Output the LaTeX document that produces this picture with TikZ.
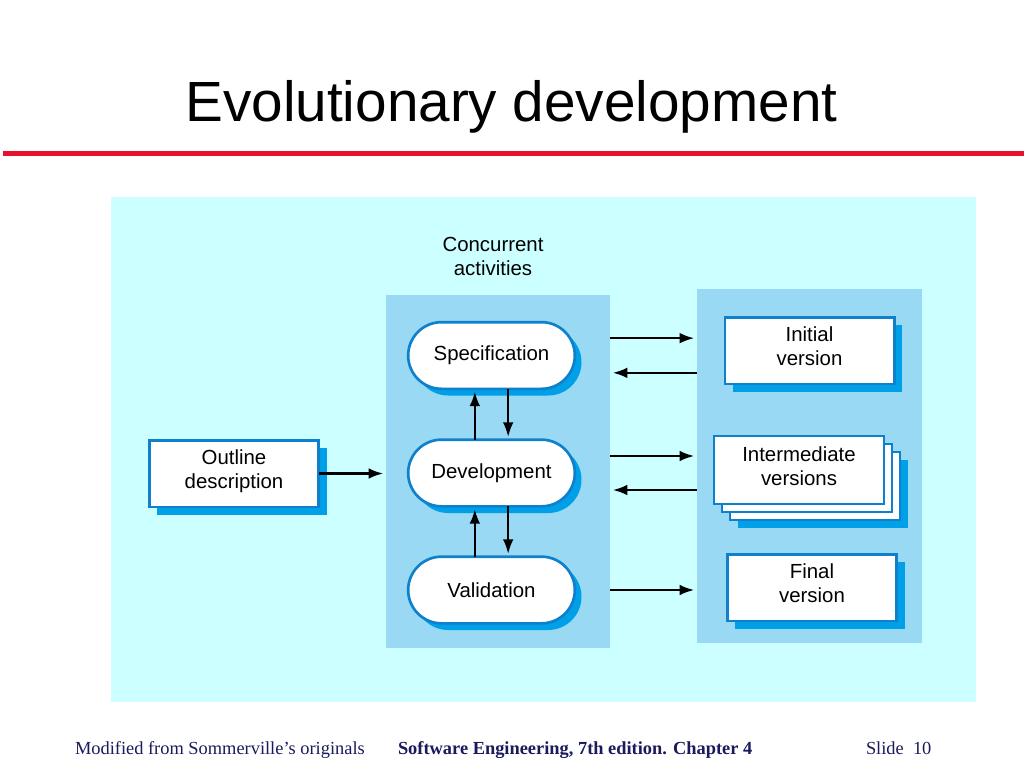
\documentclass[tikz,border=0pt]{standalone}
\usepackage{fontspec}
\setmainfont{Liberation Serif}
\setsansfont{Liberation Sans}
\usetikzlibrary{shadows,arrows.meta,shapes.misc}
\definecolor{bgcyan}{HTML}{CCFFFF}
\definecolor{colblue}{HTML}{99D9F4}
\definecolor{edgeblue}{HTML}{0F80CC}
\definecolor{shadeblue}{HTML}{00A0E8}
\definecolor{rulered}{HTML}{E8102A}
\definecolor{footnavy}{HTML}{1A1A5C}

\begin{document}
\begin{tikzpicture}[x=0.75pt,y=-0.75pt,
  every node/.style={inner sep=0pt,outer sep=0pt},
  txt/.style={font=\sffamily\fontsize{15.3}{18}\selectfont,align=center},
  panel/.style={fill=#1,draw=none},
  bshadow/.style={general shadow={fill=shadeblue,shadow xshift=#1,shadow yshift=-#1}},
  activity/.style={txt,rounded rectangle,draw=edgeblue,line width=2pt,fill=white,
    minimum width=125pt,minimum height=50pt,bshadow=5pt},
  version/.style={txt,rectangle,draw=edgeblue,line width=2pt,fill=white,
    minimum width=127pt,minimum height=50pt,bshadow=6pt},
  stack/.style={txt,rectangle,draw=edgeblue,line width=2pt,fill=white,
    minimum width=127.5pt,minimum height=51pt,bshadow=18pt,
    general shadow={fill=white,draw=edgeblue,shadow xshift=12pt,shadow yshift=-12pt},
    general shadow={fill=white,draw=edgeblue,shadow xshift=6pt,shadow yshift=-6pt}},
  flow/.style={line width=1.8pt,-{Latex[length=11pt,width=8pt]},shorten >=2pt}
]
  \useasboundingbox[fill=white] (0,0) rectangle (1024,768);
  \node[font=\sffamily\fontsize{42.5}{50}\selectfont,anchor=base] (title) at (511.5,121) {Evolutionary development};
  \draw[rulered,line width=3.75pt] (3,153) -- (1024,153);

  \node[panel=bgcyan,minimum width=648.75pt,minimum height=378.75pt] (area) at (543.5,449.5) {};
  \node[panel=colblue,minimum width=168pt,minimum height=264.75pt] (mid) at (498,471.5) {};
  \node[panel=colblue,minimum width=168.75pt,minimum height=265.5pt] (right) at (809.5,466) {};

  \node[txt] (conc) at (493,256) {Concurrent\\activities};
  \node[activity] (spec) at (491.5,355.5) {Specification};
  \node[activity] (dev) at (491.5,473) {Development};
  \node[activity] (val) at (491.5,590) {Validation};
  \node[version] (outline) at (234,473.5) {Outline\\description\rule[-6pt]{0pt}{0pt}};
  \node[version] (init) at (809.5,350.5) {Initial\\version\rule[-6pt]{0pt}{0pt}};
  \node[stack] (inter) at (799,470) {Intermediate\\versions\rule[-6pt]{0pt}{0pt}};
  \node[version] (final) at (812,587.5) {Final\\version\rule[-6pt]{0pt}{0pt}};

  \draw[flow] (outline.east) -- (outline.east -| mid.west);
  \draw[flow] ([yshift=13pt]spec.east -| mid.east) -- ([yshift=13pt]spec.east -| right.west);
  \draw[flow] ([yshift=-13pt]spec.east -| right.west) -- ([yshift=-13pt]spec.east -| mid.east);
  \draw[flow] ([yshift=12.75pt]dev.east -| mid.east) -- ([yshift=12.75pt]dev.east -| right.west);
  \draw[flow] ([yshift=-12.75pt]dev.east -| right.west) -- ([yshift=-12.75pt]dev.east -| mid.east);
  \draw[flow] (val.east -| mid.east) -- (val.east -| right.west);
  \draw[flow] ([xshift=-12.5pt]dev.north) -- ([xshift=-12.5pt]spec.south);
  \draw[flow] ([xshift=12.5pt]spec.south) -- ([xshift=12.5pt]dev.north);
  \draw[flow] ([xshift=-12.5pt]val.north) -- ([xshift=-12.5pt]dev.south);
  \draw[flow] ([xshift=12.5pt]dev.south) -- ([xshift=12.5pt]val.north);

  \node[font=\fontsize{13.8}{16}\selectfont,text=footnavy,anchor=base west] (orig) at (75,754) {Modified from Sommerville's originals};
  \node[font=\bfseries\fontsize{13.8}{16}\selectfont,text=footnavy,anchor=base west] (book) at (398,754) {Software Engineering, 7th edition. Chapter 4};
  \node[font=\fontsize{13.8}{16}\selectfont,text=footnavy,anchor=base west] (slide) at (866,754) {Slide\ \ 10};
\end{tikzpicture}
\end{document}
